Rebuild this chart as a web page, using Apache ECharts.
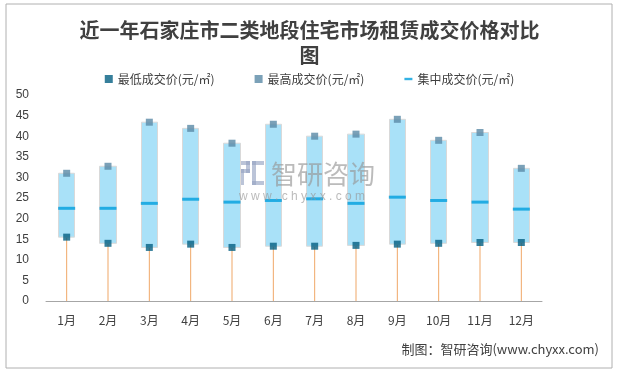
<!DOCTYPE html>
<html>
<head>
<meta charset="utf-8">
<script src="https://cdn.jsdelivr.net/npm/echarts@6/dist/echarts.min.js"></script>
<style>html,body{margin:0;padding:0;background:#fff;}#c{width:619px;height:371px;}</style>
</head>
<body>
<div id="c"></div>
<script>
var months = ['1月','2月','3月','4月','5月','6月','7月','8月','9月','10月','11月','12月'];
var lowPrice  = [15.5, 14.0, 13.0, 13.8, 13.0, 13.3, 13.3, 13.5, 13.8, 14.0, 14.2, 14.2];
var highPrice = [31.0, 32.7, 43.4, 41.9, 38.3, 42.9, 40.0, 40.5, 44.1, 39.0, 40.9, 32.2];
var midPrice  = [22.5, 22.5, 23.7, 24.7, 24.0, 24.4, 24.8, 23.7, 25.2, 24.4, 24.0, 22.3];
var yTicks = { min: 0, max: 50, interval: 5 };
var nameLow = '最低成交价(元/㎡)';
var nameHigh = '最高成交价(元/㎡)';
var nameMid = '集中成交价(元/㎡)';

var boxData = months.map(function (m, i) {
  return [lowPrice[i], highPrice[i], lowPrice[i], highPrice[i]];
});

var wm = 'rgba(150,165,195,0.65)';
var chart = echarts.init(document.getElementById('c'), null, { renderer: 'canvas' });
chart.setOption({
  animation: false,
  backgroundColor: '#fff',
  title: {
    text: '近一年石家庄市二类地段住宅市场租赁成交价格对比\n图',
    left: 'center',
    top: 13,
    textStyle: {
      fontFamily: 'Noto Sans CJK SC',
      fontSize: 20,
      fontWeight: 'bold',
      color: '#404040',
      lineHeight: 25
    }
  },
  legend: {
    top: 68,
    left: 'center',
    itemGap: 40,
    itemWidth: 8,
    itemHeight: 8,
    textStyle: { fontFamily: 'Noto Sans CJK SC', fontSize: 12, color: '#404040' },
    data: [
      { name: nameLow, icon: 'rect' },
      { name: nameHigh, icon: 'rect' },
      { name: nameMid, icon: 'path://M0,3.5H10V6.5H0Z' }
    ]
  },
  grid: { left: 46, right: 77, top: 95, bottom: 70 },
  xAxis: {
    type: 'category',
    data: months,
    axisLine: { lineStyle: { color: '#a6a6a6', width: 1 } },
    axisTick: { show: false },
    axisLabel: { fontFamily: 'Noto Sans CJK SC', fontSize: 12, color: '#404040', margin: 13 }
  },
  yAxis: {
    type: 'value',
    min: yTicks.min,
    max: yTicks.max,
    interval: yTicks.interval,
    axisLine: { show: false },
    axisTick: { show: false },
    splitLine: { show: false },
    axisLabel: { fontFamily: 'Liberation Sans', fontSize: 12, color: '#404040', margin: 17 }
  },
  series: [
    {
      name: 'stem',
      type: 'bar',
      data: lowPrice,
      barWidth: 1,
      z: 1,
      itemStyle: { color: '#f0a868' }
    },
    {
      name: 'box',
      type: 'candlestick',
      data: boxData,
      barWidth: 17,
      z: 2,
      itemStyle: {
        color: '#a9e1f8', color0: '#a9e1f8',
        borderColor: '#d9d9d9', borderColor0: '#d9d9d9', borderWidth: 1
      }
    },
    {
      name: nameMid,
      type: 'scatter',
      data: midPrice,
      symbol: 'rect',
      symbolSize: [17, 3],
      z: 3,
      itemStyle: { color: '#009fdd' }
    },
    {
      name: nameLow,
      type: 'scatter',
      data: lowPrice,
      symbol: 'rect',
      symbolSize: 7,
      z: 4,
      itemStyle: { color: '#045f82' }
    },
    {
      name: nameHigh,
      type: 'scatter',
      data: highPrice,
      symbol: 'rect',
      symbolSize: 7,
      z: 4,
      itemStyle: { color: '#5a8aa6' }
    }
  ],
  graphic: [
    {
      type: 'rect', silent: true, z: 0,
      shape: { x: 6, y: 4, width: 606, height: 364 },
      style: { fill: 'none', stroke: '#b0b0b0', lineWidth: 1 }
    },
    {
      type: 'group', z: 100, left: 240, top: 161,
      children: [
        { type: 'rect', shape: { x: 0, y: 0, width: 10, height: 4 }, style: { fill: wm } },
        { type: 'rect', shape: { x: 6, y: 0, width: 4, height: 12 }, style: { fill: wm } },
        { type: 'rect', shape: { x: 0, y: 8, width: 10, height: 4 }, style: { fill: wm } },
        { type: 'rect', shape: { x: 0, y: 8, width: 4, height: 16 }, style: { fill: wm } },
        { type: 'rect', shape: { x: 12, y: 0, width: 12, height: 4 }, style: { fill: wm } },
        { type: 'rect', shape: { x: 12, y: 0, width: 4, height: 24 }, style: { fill: wm } },
        { type: 'rect', shape: { x: 12, y: 20, width: 12, height: 4 }, style: { fill: wm } }
      ]
    },
    {
      type: 'text', z: 100, left: 271, top: 161,
      style: { text: '智研咨询', fill: 'rgba(150,150,150,0.65)', font: '26px Noto Sans CJK SC' }
    },
    {
      type: 'text', z: 100, left: 239, top: 191,
      style: { text: 'w w w . c h y x x . c o m', fill: 'rgba(150,150,150,0.65)', font: '12px Liberation Sans' }
    },
    {
      type: 'text', right: 20, top: 343,
      style: { text: '制图：智研咨询(www.chyxx.com)', fill: '#404040', font: '13px Noto Sans CJK SC' }
    }
  ]
});
</script>
</body>
</html>
